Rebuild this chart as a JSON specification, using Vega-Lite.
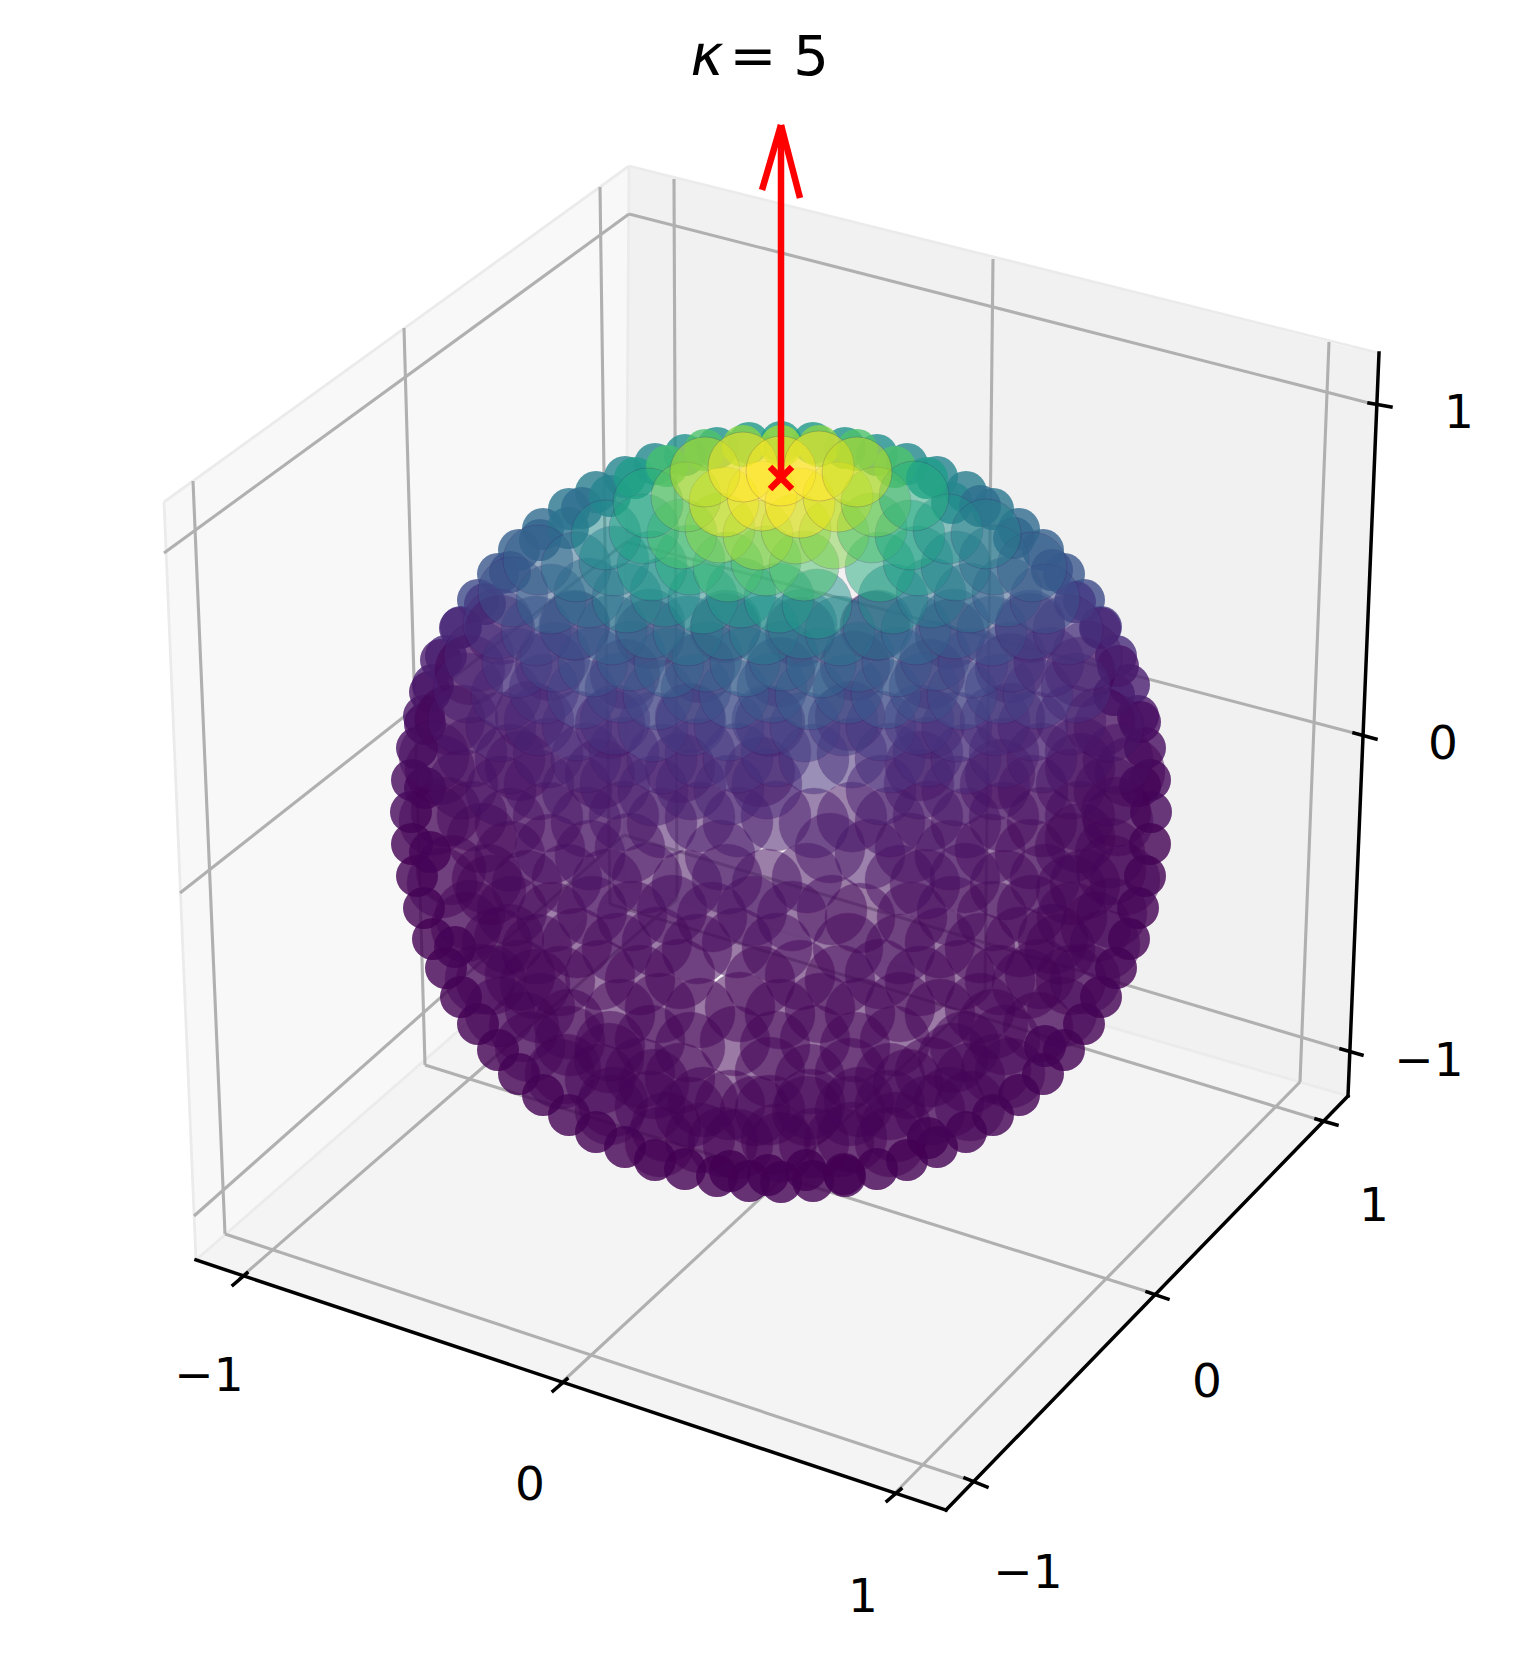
{"$schema":"https://vega.github.io/schema/vega-lite/v6.json","width":1523,"height":1657,"autosize":{"type":"fit","contains":"padding"},"padding":0,"background":"white","config":{"view":{"stroke":null}},
"datasets":{
"panes":[
{"p":"left","x":164,"y":502,"y2":502},{"p":"left","x":196,"y":479,"y2":1260},{"p":"left","x":624,"y":170,"y2":886},{"p":"left","x":629,"y":166,"y2":166},
{"p":"right","x":624,"y":886,"y2":886},{"p":"right","x":629,"y":166,"y2":887},{"p":"right","x":1348,"y":347,"y2":1096},{"p":"right","x":1379,"y":353,"y2":353},
{"p":"floor","x":196,"y":1260,"y2":1260},{"p":"floor","x":624,"y":886,"y2":1402},{"p":"floor","x":946,"y":978,"y2":1510},{"p":"floor","x":1348,"y":1096,"y2":1096}],
"edges":[{"x":164,"y":502,"x2":629,"y2":166},{"x":629,"y":166,"x2":1379,"y2":353},{"x":629,"y":166,"x2":624,"y2":886},{"x":164,"y":502,"x2":196,"y2":1260},{"x":196,"y":1260,"x2":624,"y2":886},{"x":624,"y":886,"x2":1348,"y2":1096}],
"grid":[
{"x":193,"y":481,"x2":225,"y2":1234},{"x":404,"y":328,"x2":425,"y2":1065},{"x":600,"y":187,"x2":610,"y2":904},
{"x":225,"y":1234,"x2":972,"y2":1481},{"x":425,"y":1065,"x2":1155,"y2":1294},{"x":610,"y":904,"x2":1323,"y2":1121},
{"x":674,"y":179,"x2":677,"y2":899},{"x":993,"y":259,"x2":985,"y2":990},{"x":1329,"y":342,"x2":1300,"y2":1082},
{"x":239,"y":1279,"x2":677,"y2":899},{"x":559,"y":1385,"x2":985,"y2":990},{"x":894,"y":1494,"x2":1300,"y2":1082},
{"x":164,"y":553,"x2":629,"y2":214},{"x":180,"y":893,"x2":626,"y2":542},{"x":194,"y":1216,"x2":624,"y2":835},
{"x":629,"y":214,"x2":1369,"y2":403},{"x":626,"y":542,"x2":1354,"y2":733},{"x":624,"y":835,"x2":1341,"y2":1049}],
"axes":[
{"x":196,"y":1260,"x2":946,"y2":1510},{"x":946,"y":1510,"x2":1348,"y2":1096},{"x":1348,"y":1096,"x2":1379,"y2":353},
{"x":233,"y":1285,"x2":247,"y2":1273},{"x":553,"y":1391,"x2":567,"y2":1379},{"x":887,"y":1501,"x2":901,"y2":1489},
{"x":965,"y":1478,"x2":987,"y2":1487},{"x":1147,"y":1292,"x2":1168,"y2":1299},{"x":1316,"y":1119,"x2":1337,"y2":1125},
{"x":1341,"y":1049,"x2":1362,"y2":1055},{"x":1354,"y":733,"x2":1376,"y2":739},{"x":1369,"y":403,"x2":1391,"y2":407}],
"arrow":[{"x":781,"y":478,"x2":781,"y2":125},{"x":762,"y":190,"x2":781,"y2":125},{"x":800,"y":198,"x2":781,"y2":125},{"x":770,"y":467,"x2":792,"y2":489},{"x":770,"y":489,"x2":792,"y2":467}],
"ticks":[{"x":1459,"y":414,"t":"1"},{"x":1443,"y":745,"t":"0"},{"x":1429,"y":1062,"t":"−1"},{"x":1374,"y":1207,"t":"1"},{"x":1207,"y":1383,"t":"0"},{"x":1028,"y":1574,"t":"−1"},{"x":209,"y":1377,"t":"−1"},{"x":530,"y":1486,"t":"0"},{"x":863,"y":1598,"t":"1"}],
"title":[{"x":753,"y":58,"t":"="},{"x":811,"y":58,"t":"5"}],
"kappa":[{"x":707,"y":58,"t":"κ"}],
"sphere":[
{"x":500,"y":630,"v":0},{"x":575,"y":626,"v":0},{"x":650,"y":634,"v":0},{"x":725,"y":628,"v":0},{"x":800,"y":632,"v":0},{"x":875,"y":626,"v":0},{"x":950,"y":634,"v":0},{"x":1030,"y":628,"v":0},
{"x":470,"y":670,"v":0},{"x":550,"y":666,"v":0},{"x":625,"y":674,"v":0},{"x":700,"y":668,"v":0},{"x":780,"y":672,"v":0},{"x":855,"y":666,"v":0},{"x":930,"y":674,"v":0},{"x":1010,"y":668,"v":0},{"x":1080,"y":672,"v":0},
{"x":450,"y":720,"v":0},{"x":530,"y":716,"v":0},{"x":610,"y":724,"v":0},{"x":690,"y":718,"v":0},{"x":770,"y":722,"v":0},{"x":850,"y":716,"v":0},{"x":930,"y":724,"v":0},{"x":1010,"y":718,"v":0},{"x":1100,"y":722,"v":0},
{"x":440,"y":770,"v":0},{"x":520,"y":766,"v":0},{"x":600,"y":774,"v":0},{"x":680,"y":768,"v":0},{"x":760,"y":772,"v":0},{"x":920,"y":766,"v":0},{"x":1000,"y":774,"v":0},{"x":1080,"y":768,"v":0},{"x":1130,"y":772,"v":0},
{"x":1151,"y":812,"v":0.02},{"x":1150,"y":780,"v":0.02},{"x":1145,"y":748,"v":0.03},{"x":1138,"y":716,"v":0.05},{"x":1129,"y":685,"v":0.08},{"x":1116,"y":656,"v":0.12},{"x":1101,"y":627,"v":0.16},{"x":1084,"y":600,"v":0.22},{"x":1064,"y":574,"v":0.27},{"x":1043,"y":550,"v":0.31},{"x":1019,"y":529,"v":0.35},{"x":993,"y":509,"v":0.39},{"x":966,"y":492,"v":0.42},{"x":937,"y":477,"v":0.45},{"x":907,"y":464,"v":0.47},{"x":877,"y":455,"v":0.5},{"x":845,"y":448,"v":0.52},{"x":813,"y":443,"v":0.54},{"x":781,"y":442,"v":0.55},
{"x":749,"y":443,"v":0.54},{"x":717,"y":448,"v":0.52},{"x":685,"y":455,"v":0.5},{"x":655,"y":464,"v":0.47},{"x":625,"y":477,"v":0.45},{"x":596,"y":492,"v":0.42},{"x":569,"y":509,"v":0.39},{"x":543,"y":529,"v":0.35},{"x":519,"y":550,"v":0.31},{"x":498,"y":574,"v":0.27},{"x":478,"y":600,"v":0.22},{"x":461,"y":627,"v":0.16},{"x":446,"y":656,"v":0.12},{"x":433,"y":685,"v":0.08},{"x":424,"y":716,"v":0.05},{"x":417,"y":748,"v":0.03},{"x":412,"y":780,"v":0.02},{"x":411,"y":812,"v":0.02},
{"x":1150,"y":844,"v":0},{"x":1145,"y":876,"v":0},{"x":1138,"y":908,"v":0},{"x":1129,"y":939,"v":0},{"x":1116,"y":968,"v":0},{"x":1101,"y":997,"v":0},{"x":1084,"y":1024,"v":0},{"x":1064,"y":1050,"v":0},{"x":1043,"y":1074,"v":0},{"x":1019,"y":1095,"v":0},{"x":993,"y":1115,"v":0},{"x":966,"y":1132,"v":0},{"x":937,"y":1147,"v":0},{"x":907,"y":1160,"v":0},{"x":877,"y":1169,"v":0},{"x":845,"y":1176,"v":0},{"x":813,"y":1181,"v":0},{"x":781,"y":1182,"v":0},
{"x":749,"y":1181,"v":0},{"x":717,"y":1176,"v":0},{"x":685,"y":1169,"v":0},{"x":655,"y":1160,"v":0},{"x":625,"y":1147,"v":0},{"x":596,"y":1132,"v":0},{"x":569,"y":1115,"v":0},{"x":543,"y":1095,"v":0},{"x":519,"y":1074,"v":0},{"x":498,"y":1050,"v":0},{"x":478,"y":1024,"v":0},{"x":461,"y":997,"v":0},{"x":446,"y":968,"v":0},{"x":433,"y":939,"v":0},{"x":424,"y":908,"v":0},{"x":417,"y":876,"v":0},{"x":412,"y":844,"v":0},
{"x":1116,"y":812,"v":0},{"x":1111,"y":870,"v":0},{"x":1096,"y":927,"v":0},{"x":1071,"y":980,"v":0},{"x":1038,"y":1027,"v":0},{"x":996,"y":1069,"v":0},{"x":949,"y":1102,"v":0},{"x":896,"y":1127,"v":0},{"x":839,"y":1142,"v":0},{"x":781,"y":1147,"v":0},{"x":723,"y":1142,"v":0},{"x":666,"y":1127,"v":0},{"x":613,"y":1102,"v":0},{"x":566,"y":1069,"v":0},{"x":524,"y":1027,"v":0},{"x":491,"y":980,"v":0},{"x":466,"y":927,"v":0},{"x":451,"y":870,"v":0},{"x":446,"y":812,"v":0},
{"x":1080,"y":838,"v":0},{"x":1071,"y":890,"v":0},{"x":1053,"y":939,"v":0},{"x":1027,"y":984,"v":0},{"x":993,"y":1024,"v":0},{"x":953,"y":1058,"v":0},{"x":908,"y":1084,"v":0},{"x":859,"y":1102,"v":0},{"x":807,"y":1111,"v":0},{"x":755,"y":1111,"v":0},{"x":703,"y":1102,"v":0},{"x":654,"y":1084,"v":0},{"x":609,"y":1058,"v":0},{"x":569,"y":1024,"v":0},{"x":535,"y":984,"v":0},{"x":509,"y":939,"v":0},{"x":491,"y":890,"v":0},{"x":482,"y":838,"v":0},
{"x":730,"y":1171,"v":0},{"x":768,"y":1175,"v":0},{"x":806,"y":1170,"v":0},{"x":844,"y":1174,"v":0},{"x":660,"y":1142,"v":0},{"x":700,"y":1138,"v":0},{"x":738,"y":1144,"v":0},{"x":776,"y":1139,"v":0},{"x":814,"y":1143,"v":0},{"x":852,"y":1137,"v":0},{"x":890,"y":1142,"v":0},{"x":928,"y":1138,"v":0},
{"x":610,"y":1110,"v":0.01},{"x":650,"y":1106,"v":0.01},{"x":690,"y":1112,"v":0.01},{"x":730,"y":1105,"v":0.01},{"x":770,"y":1110,"v":0.01},{"x":810,"y":1104,"v":0.01},{"x":850,"y":1111,"v":0.01},{"x":890,"y":1105,"v":0.01},{"x":930,"y":1110,"v":0.01},{"x":970,"y":1106,"v":0.01},
{"x":560,"y":1074,"v":0.01},{"x":600,"y":1079,"v":0.01},{"x":640,"y":1073,"v":0.01},{"x":680,"y":1078,"v":0.01},{"x":770,"y":1072,"v":0.01},{"x":810,"y":1079,"v":0.01},{"x":850,"y":1073,"v":0.01},{"x":890,"y":1078,"v":0.01},{"x":930,"y":1072,"v":0.01},{"x":970,"y":1078,"v":0.01},{"x":1010,"y":1073,"v":0.01},
{"x":530,"y":1047,"v":0.01},{"x":570,"y":1041,"v":0.01},{"x":610,"y":1046,"v":0.01},{"x":650,"y":1040,"v":0.01},{"x":690,"y":1047,"v":0.01},{"x":735,"y":1041,"v":0.01},{"x":775,"y":1046,"v":0.01},{"x":815,"y":1040,"v":0.01},{"x":855,"y":1047,"v":0.01},{"x":895,"y":1041,"v":0.01},{"x":965,"y":1046,"v":0.01},{"x":1005,"y":1040,"v":0.01},{"x":1045,"y":1046,"v":0.01},
{"x":500,"y":1012,"v":0.01},{"x":540,"y":1008,"v":0.01},{"x":620,"y":1014,"v":0.01},{"x":660,"y":1008,"v":0.01},{"x":700,"y":1013,"v":0.01},{"x":740,"y":1007,"v":0.01},{"x":780,"y":1014,"v":0.01},{"x":820,"y":1008,"v":0.01},{"x":860,"y":1013,"v":0.01},{"x":900,"y":1007,"v":0.01},{"x":940,"y":1014,"v":0.01},{"x":980,"y":1008,"v":0.01},{"x":1062,"y":1012,"v":0.01},
{"x":480,"y":979,"v":0.01},{"x":520,"y":975,"v":0.01},{"x":560,"y":981,"v":0.01},{"x":600,"y":975,"v":0.01},{"x":640,"y":980,"v":0.01},{"x":680,"y":974,"v":0.01},{"x":760,"y":981,"v":0.01},{"x":800,"y":975,"v":0.01},{"x":840,"y":980,"v":0.01},{"x":880,"y":974,"v":0.02},{"x":920,"y":981,"v":0.01},{"x":960,"y":975,"v":0.01},{"x":1000,"y":980,"v":0.01},{"x":1040,"y":974,"v":0.01},{"x":1085,"y":979,"v":0.01},
{"x":455,"y":947,"v":0.01},{"x":497,"y":943,"v":0.01},{"x":537,"y":949,"v":0.01},{"x":577,"y":943,"v":0.01},{"x":617,"y":948,"v":0.02},{"x":657,"y":942,"v":0.02},{"x":697,"y":949,"v":0.02},{"x":737,"y":943,"v":0.02},{"x":777,"y":948,"v":0.02},{"x":848,"y":948,"v":0.02},{"x":900,"y":949,"v":0.02},{"x":940,"y":943,"v":0.02},{"x":980,"y":948,"v":0.01},{"x":1020,"y":942,"v":0.01},{"x":1060,"y":949,"v":0.01},{"x":1105,"y":945,"v":0.01},
{"x":470,"y":915,"v":0.01},{"x":512,"y":911,"v":0.01},{"x":552,"y":917,"v":0.02},{"x":592,"y":911,"v":0.02},{"x":632,"y":916,"v":0.02},{"x":672,"y":910,"v":0.02},{"x":712,"y":917,"v":0.02},{"x":752,"y":911,"v":0.03},{"x":792,"y":916,"v":0.03},{"x":832,"y":910,"v":0.02},{"x":860,"y":918,"v":0.02},{"x":912,"y":917,"v":0.02},{"x":952,"y":911,"v":0.02},{"x":992,"y":916,"v":0.02},{"x":1032,"y":910,"v":0.01},{"x":1072,"y":917,"v":0.01},{"x":1112,"y":913,"v":0.01},
{"x":442,"y":883,"v":0.01},{"x":487,"y":879,"v":0.01},{"x":527,"y":885,"v":0.02},{"x":567,"y":879,"v":0.02},{"x":607,"y":884,"v":0.03},{"x":647,"y":878,"v":0.03},{"x":687,"y":885,"v":0.04},{"x":727,"y":879,"v":0.04},{"x":767,"y":884,"v":0.04},{"x":807,"y":878,"v":0.04},{"x":900,"y":880,"v":0.03},{"x":925,"y":884,"v":0.03},{"x":965,"y":878,"v":0.02},{"x":1005,"y":885,"v":0.02},{"x":1045,"y":879,"v":0.02},{"x":1085,"y":884,"v":0.01},{"x":1125,"y":880,"v":0.01},
{"x":430,"y":852,"v":0.01},{"x":510,"y":856,"v":0.02},{"x":550,"y":849,"v":0.03},{"x":590,"y":855,"v":0.04},{"x":630,"y":848,"v":0.04},{"x":720,"y":855,"v":0.05},{"x":830,"y":848,"v":0.05},{"x":870,"y":854,"v":0.05},{"x":910,"y":848,"v":0.04},{"x":950,"y":855,"v":0.04},{"x":990,"y":849,"v":0.03},{"x":1030,"y":854,"v":0.02},{"x":1070,"y":848,"v":0.02},{"x":1110,"y":853,"v":0.01},
{"x":434,"y":820,"v":0.01},{"x":472,"y":816,"v":0.02},{"x":510,"y":823,"v":0.02},{"x":548,"y":817,"v":0.03},{"x":586,"y":822,"v":0.04},{"x":624,"y":816,"v":0.05},{"x":662,"y":823,"v":0.05},{"x":700,"y":817,"v":0.06},{"x":738,"y":822,"v":0.07},{"x":776,"y":816,"v":0.07},{"x":814,"y":823,"v":0.07},{"x":852,"y":817,"v":0.06},{"x":890,"y":822,"v":0.05},{"x":928,"y":816,"v":0.05},{"x":966,"y":823,"v":0.04},{"x":1004,"y":817,"v":0.03},{"x":1042,"y":822,"v":0.02},{"x":1080,"y":816,"v":0.02},{"x":1118,"y":821,"v":0.01},
{"x":425,"y":788,"v":0.02},{"x":463,"y":784,"v":0.03},{"x":501,"y":791,"v":0.04},{"x":539,"y":785,"v":0.05},{"x":577,"y":790,"v":0.06},{"x":615,"y":784,"v":0.07},{"x":653,"y":791,"v":0.08},{"x":691,"y":785,"v":0.09},{"x":729,"y":790,"v":0.1},{"x":767,"y":784,"v":0.1},{"x":881,"y":790,"v":0.08},{"x":919,"y":784,"v":0.07},{"x":957,"y":791,"v":0.06},{"x":995,"y":785,"v":0.05},{"x":1033,"y":790,"v":0.04},{"x":1071,"y":784,"v":0.03},{"x":1109,"y":791,"v":0.02},{"x":1140,"y":786,"v":0.02},
{"x":434,"y":756,"v":0.03},{"x":472,"y":752,"v":0.04},{"x":510,"y":759,"v":0.05},{"x":548,"y":753,"v":0.07},{"x":586,"y":758,"v":0.09},{"x":624,"y":752,"v":0.1},{"x":662,"y":759,"v":0.11},{"x":700,"y":753,"v":0.12},{"x":738,"y":758,"v":0.13},{"x":776,"y":752,"v":0.14},{"x":814,"y":759,"v":0.14},{"x":852,"y":753,"v":0.13},{"x":890,"y":758,"v":0.13},{"x":928,"y":752,"v":0.12},{"x":966,"y":759,"v":0.11},{"x":1004,"y":753,"v":0.09},{"x":1042,"y":758,"v":0.07},{"x":1080,"y":752,"v":0.05},{"x":1118,"y":759,"v":0.03},
{"x":425,"y":724,"v":0.03},{"x":463,"y":720,"v":0.05},{"x":501,"y":727,"v":0.07},{"x":539,"y":721,"v":0.1},{"x":577,"y":726,"v":0.12},{"x":615,"y":720,"v":0.14},{"x":653,"y":727,"v":0.16},{"x":691,"y":721,"v":0.17},{"x":729,"y":726,"v":0.18},{"x":767,"y":720,"v":0.19},{"x":805,"y":727,"v":0.19},{"x":843,"y":721,"v":0.18},{"x":881,"y":726,"v":0.17},{"x":919,"y":720,"v":0.16},{"x":957,"y":727,"v":0.14},{"x":995,"y":721,"v":0.12},{"x":1033,"y":726,"v":0.1},{"x":1071,"y":720,"v":0.07},{"x":1109,"y":727,"v":0.05},{"x":1140,"y":722,"v":0.03},
{"x":430,"y":692,"v":0.05},{"x":468,"y":688,"v":0.07},{"x":506,"y":695,"v":0.1},{"x":544,"y":689,"v":0.14},{"x":582,"y":694,"v":0.18},{"x":620,"y":688,"v":0.2},{"x":658,"y":695,"v":0.22},{"x":696,"y":689,"v":0.24},{"x":734,"y":694,"v":0.26},{"x":772,"y":688,"v":0.27},{"x":810,"y":695,"v":0.28},{"x":848,"y":689,"v":0.27},{"x":886,"y":694,"v":0.26},{"x":924,"y":688,"v":0.24},{"x":962,"y":695,"v":0.22},{"x":1000,"y":689,"v":0.2},{"x":1038,"y":694,"v":0.17},{"x":1076,"y":688,"v":0.13},{"x":1114,"y":695,"v":0.08},
{"x":441,"y":660,"v":0.07},{"x":479,"y":656,"v":0.1},{"x":517,"y":663,"v":0.15},{"x":555,"y":657,"v":0.2},{"x":593,"y":662,"v":0.24},{"x":631,"y":656,"v":0.28},{"x":669,"y":663,"v":0.3},{"x":707,"y":657,"v":0.31},{"x":745,"y":662,"v":0.32},{"x":783,"y":656,"v":0.32},{"x":821,"y":663,"v":0.32},{"x":859,"y":657,"v":0.3},{"x":897,"y":662,"v":0.28},{"x":935,"y":656,"v":0.24},{"x":973,"y":663,"v":0.21},{"x":1011,"y":657,"v":0.17},{"x":1049,"y":662,"v":0.12},{"x":1087,"y":656,"v":0.09},{"x":1118,"y":666,"v":0.06},
{"x":460,"y":628,"v":0.1},{"x":498,"y":624,"v":0.15},{"x":536,"y":631,"v":0.2},{"x":574,"y":625,"v":0.25},{"x":612,"y":630,"v":0.3},{"x":650,"y":624,"v":0.34},{"x":688,"y":631,"v":0.37},{"x":726,"y":625,"v":0.39},{"x":764,"y":630,"v":0.4},{"x":802,"y":624,"v":0.4},{"x":840,"y":631,"v":0.38},{"x":878,"y":625,"v":0.36},{"x":916,"y":630,"v":0.33},{"x":954,"y":624,"v":0.29},{"x":992,"y":631,"v":0.25},{"x":1030,"y":625,"v":0.2},{"x":1068,"y":630,"v":0.15},{"x":1100,"y":628,"v":0.1},
{"x":485,"y":604,"v":0.17},{"x":513,"y":592,"v":0.24},{"x":551,"y":599,"v":0.3},{"x":589,"y":593,"v":0.36},{"x":627,"y":598,"v":0.41},{"x":665,"y":592,"v":0.46},{"x":703,"y":599,"v":0.5},{"x":741,"y":593,"v":0.52},{"x":779,"y":598,"v":0.54},{"x":817,"y":604,"v":0.52},{"x":893,"y":599,"v":0.46},{"x":931,"y":593,"v":0.41},{"x":969,"y":598,"v":0.36},{"x":1007,"y":592,"v":0.3},{"x":1045,"y":599,"v":0.24},{"x":1075,"y":602,"v":0.17},
{"x":510,"y":572,"v":0.26},{"x":538,"y":560,"v":0.3},{"x":576,"y":567,"v":0.36},{"x":614,"y":561,"v":0.44},{"x":652,"y":566,"v":0.54},{"x":690,"y":560,"v":0.62},{"x":728,"y":567,"v":0.68},{"x":766,"y":561,"v":0.72},{"x":804,"y":566,"v":0.72},{"x":880,"y":567,"v":0.62},{"x":918,"y":561,"v":0.54},{"x":956,"y":566,"v":0.44},{"x":994,"y":560,"v":0.36},{"x":1032,"y":567,"v":0.3},{"x":1052,"y":570,"v":0.26},
{"x":540,"y":540,"v":0.32},{"x":568,"y":528,"v":0.38},{"x":606,"y":535,"v":0.48},{"x":644,"y":529,"v":0.58},{"x":682,"y":534,"v":0.72},{"x":720,"y":528,"v":0.82},{"x":758,"y":535,"v":0.85},{"x":796,"y":529,"v":0.85},{"x":834,"y":534,"v":0.82},{"x":872,"y":528,"v":0.72},{"x":910,"y":535,"v":0.6},{"x":948,"y":529,"v":0.5},{"x":986,"y":534,"v":0.42},{"x":1014,"y":538,"v":0.33},
{"x":582,"y":508,"v":0.36},{"x":610,"y":496,"v":0.45},{"x":648,"y":503,"v":0.6},{"x":686,"y":497,"v":0.78},{"x":724,"y":502,"v":0.95},{"x":762,"y":496,"v":1},{"x":800,"y":503,"v":1},{"x":838,"y":497,"v":0.95},{"x":876,"y":502,"v":0.8},{"x":914,"y":496,"v":0.62},{"x":952,"y":503,"v":0.46},{"x":980,"y":506,"v":0.36},
{"x":635,"y":478,"v":0.55},{"x":667,"y":466,"v":0.7},{"x":705,"y":472,"v":0.9},{"x":743,"y":467,"v":1},{"x":781,"y":471,"v":1},{"x":819,"y":466,"v":1},{"x":857,"y":472,"v":0.92},{"x":895,"y":467,"v":0.72},{"x":927,"y":478,"v":0.55},
{"x":705,"y":450,"v":0.72},{"x":743,"y":446,"v":0.82},{"x":781,"y":446,"v":0.85},{"x":819,"y":446,"v":0.82},{"x":857,"y":450,"v":0.72}]},
"layer":[
{"data":{"name":"panes"},"mark":{"type":"area","line":false},"encoding":{"x":{"field":"x","type":"quantitative","scale":{"domain":[0,1523],"nice":false,"zero":false},"axis":null},"y":{"field":"y","type":"quantitative","scale":{"domain":[1657,0],"nice":false,"zero":false},"axis":null},"y2":{"field":"y2"},"color":{"field":"p","type":"nominal","scale":{"domain":["left","right","floor"],"range":["#f8f8f8","#f1f1f1","#f4f4f4"]},"legend":null}}},
{"data":{"name":"edges"},"mark":{"type":"rule","stroke":"#ebebeb","strokeWidth":2.8},"encoding":{"x":{"field":"x","type":"quantitative"},"y":{"field":"y","type":"quantitative"},"x2":{"field":"x2"},"y2":{"field":"y2"}}},
{"data":{"name":"grid"},"mark":{"type":"rule","stroke":"#b0b0b0","strokeWidth":3.1},"encoding":{"x":{"field":"x","type":"quantitative"},"y":{"field":"y","type":"quantitative"},"x2":{"field":"x2"},"y2":{"field":"y2"}}},
{"data":{"name":"axes"},"mark":{"type":"rule","stroke":"#000000","strokeWidth":3.5,"strokeCap":"square"},"encoding":{"x":{"field":"x","type":"quantitative"},"y":{"field":"y","type":"quantitative"},"x2":{"field":"x2"},"y2":{"field":"y2"}}},
{"data":{"name":"sphere"},"transform":[{"filter":"(datum.x-781)*(datum.x-781)+(datum.y-812)*(datum.y-812)>=123904"}],"mark":{"type":"point","shape":"circle","filled":true,"size":1764,"opacity":0.8,"strokeWidth":0},"encoding":{"x":{"field":"x","type":"quantitative"},"y":{"field":"y","type":"quantitative"},"color":{"field":"v","type":"quantitative","scale":{"scheme":"viridis","domain":[0,1]},"legend":null}}},
{"data":{"name":"sphere"},"transform":[{"filter":"(datum.x-781)*(datum.x-781)+(datum.y-812)*(datum.y-812)<123904"}],"mark":{"type":"point","shape":"circle","filled":true,"size":4900,"opacity":0.5,"stroke":"#440154","strokeWidth":1,"strokeOpacity":0.35},"encoding":{"x":{"field":"x","type":"quantitative"},"y":{"field":"y","type":"quantitative"},"color":{"field":"v","type":"quantitative","scale":{"scheme":"viridis","domain":[0,1]},"legend":null}}},
{"data":{"name":"arrow"},"mark":{"type":"rule","stroke":"#ff0000","strokeWidth":6.5},"encoding":{"x":{"field":"x","type":"quantitative"},"y":{"field":"y","type":"quantitative"},"x2":{"field":"x2"},"y2":{"field":"y2"}}},
{"data":{"name":"ticks"},"mark":{"type":"text","font":"DejaVu Sans","fontSize":47,"color":"#000000","align":"center","baseline":"middle"},"encoding":{"x":{"field":"x","type":"quantitative"},"y":{"field":"y","type":"quantitative"},"text":{"field":"t"}}},
{"data":{"name":"title"},"mark":{"type":"text","font":"DejaVu Sans","fontSize":56,"color":"#000000","align":"center","baseline":"middle"},"encoding":{"x":{"field":"x","type":"quantitative"},"y":{"field":"y","type":"quantitative"},"text":{"field":"t"}}},
{"data":{"name":"kappa"},"mark":{"type":"text","font":"DejaVu Sans","fontStyle":"italic","fontSize":56,"color":"#000000","align":"center","baseline":"middle"},"encoding":{"x":{"field":"x","type":"quantitative"},"y":{"field":"y","type":"quantitative"},"text":{"field":"t"}}}
]}
